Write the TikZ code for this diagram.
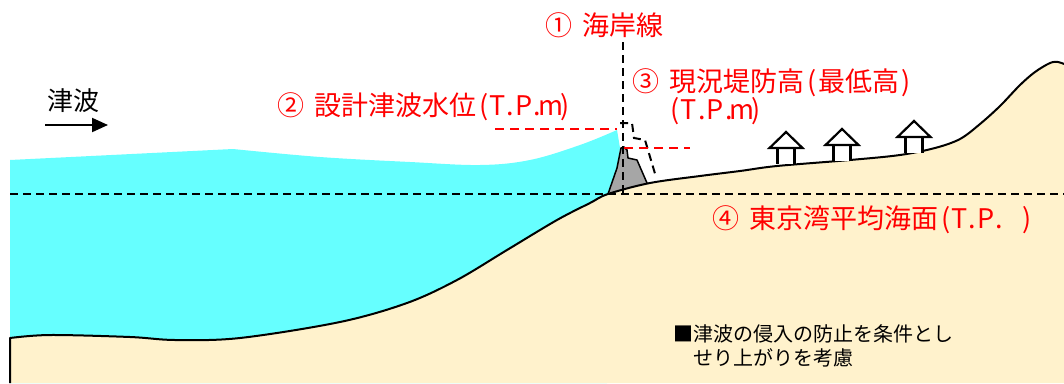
\documentclass[tikz,border=0pt]{standalone}
\usepackage{fontspec}
\newfontfamily\jp{Noto Sans CJK JP}
\usetikzlibrary{arrows.meta}
\definecolor{sea}{HTML}{66FFFF}
\definecolor{land}{HTML}{FFF2CC}
\definecolor{wall}{HTML}{A6A6A6}
\definecolor{lbl}{HTML}{FF0000}
% half-width cell, so that Latin letters line up like a fixed-pitch font
\newcommand\hw[1]{\makebox[0.5em]{#1}}

\begin{document}
\begin{tikzpicture}[x=1pt,y=-1pt,
  redlabel/.style={font=\jp\fontsize{27}{31}\selectfont, text=lbl, anchor=base west, inner sep=0pt},
  notetext/.style={font=\jp\fontsize{20}{24}\selectfont, anchor=base west, inner sep=0pt},
  blackdash/.style={line width=2pt, dash pattern=on 8pt off 5pt},
  reddash/.style={draw=lbl, line width=1.6pt, dash pattern=on 9pt off 6pt},
  groundline/.style={line width=2pt, line join=round},
  house/.style={line width=2.2pt, fill=white, line join=miter}
]
\useasboundingbox (0,0) rectangle (1064,383);
\fill[white] (0,0) rectangle (1064,383);

% sea
\fill[sea] (10,160) -- plot[smooth,tension=0.6] coordinates
  {(233,149)(320,157)(410,162)(480,165)(530,160)(580,145)(617,130)}
  -- (620,148) -- (617,168) -- (607,196) -- (607,383) -- (10,383) -- cycle;

% ground body
\fill[land] plot[smooth,tension=0.55] coordinates
  {(10,338)(50,335)(130,337)(175,340)(240,338)(340,322)(407,303)(457,280)(507,250)
   (557,220)(590,203)(608,194)(650,183)(700,176)(740,171)(777,166)(850,160)(900,155)
   (935,148)(960,139)(980,124)(1000,106)(1020,85)(1035,72)(1050,63)(1058,62)(1064,64)}
  -- (1064,383) -- (10,383) -- cycle;

% sea wall
\draw[fill=wall, line width=1.5pt, line join=round]
  (608,194) -- (617,168) -- (621,148) -- (624,147) -- (627,150) -- (628,158)
  -- (637,160) -- (647,183);

% ground surface and left cut edge
\draw[groundline] (10,383) -- plot[smooth,tension=0.55] coordinates
  {(10,338)(50,335)(130,337)(175,340)(240,338)(340,322)(407,303)(457,280)(507,250)
   (557,220)(590,203)(608,194)(650,183)(700,176)(740,171)(777,166)(850,160)(900,155)
   (935,148)(960,139)(980,124)(1000,106)(1020,85)(1035,72)(1050,63)(1058,62)(1064,64)};

% houses
\foreach \ax/\ay in {786/132, 842/129, 914/121} {
  \draw[house] (\ax-8.5,\ay+32) -- (\ax-8.5,\ay+16) -- (\ax+8.5,\ay+16) -- (\ax+8.5,\ay+32);
  \draw[house] (\ax-16.5,\ay+16) -- (\ax,\ay) -- (\ax+16.5,\ay+16) -- cycle;
}

% reference levels
\coordinate (tpW) at (10,194);
\coordinate (tpE) at (1064,194);
\draw[blackdash] (tpW) -- (tpE);

\coordinate (coastT) at (623,42);
\coordinate (coastB) at (623,194);
\draw[blackdash] (coastT) -- (coastB);

\coordinate (lvA) at (620,123);
\coordinate (lvB) at (632,123);
\coordinate (lvC) at (634,138);
\coordinate (lvD) at (645,140);
\coordinate (lvE) at (656,177);
\draw[blackdash, line join=miter] (lvA) -- (lvB) -- (lvC) -- (lvD) -- (lvE);

\coordinate (dwlW) at (495,129);
\coordinate (dwlE) at (617,129);
\draw[reddash] (dwlW) -- (dwlE);

\coordinate (crestW) at (624,148);
\coordinate (crestE) at (690,148);
\draw[reddash] (crestW) -- (crestE);

% tsunami direction
\node[font=\jp\fontsize{26}{30}\selectfont, anchor=base west, inner sep=0pt] (tsu) at (47,110) {津波};
\coordinate (arrS) at (45,125);
\coordinate (arrE) at (108,125);
\draw[line width=2pt, -{Triangle[length=16pt,width=14pt]}] (arrS) -- (arrE);

% labels
\node[redlabel] (l1) at (545,35) {①\hspace{0.4em}海岸線};
\node[redlabel] (l2) at (277,115) {②\hspace{0.4em}設計津波水位\hw{(}\hw{T}\hw{.}\hw{P}\hw{.}\hw{m}\hw{)}};
\node[redlabel] (l3) at (632,91) {③\hspace{0.4em}現況堤防高\hw{(}最低高\hw{)}};
\node[redlabel] (l3b) at (668,119) {\hw{(}\hw{T}\hw{.}\hw{P}\hw{.}\hw{m}\hw{)}};
\node[redlabel] (l4) at (712,228) {④\hspace{0.4em}東京湾平均海面\hw{(}\hw{T}\hw{.}\hw{P}\hw{.}\hw{~}\hw{)}};

\node[notetext] (noteA) at (673,341) {■津波の侵入の防止を条件とし};
\node[notetext] (noteB) at (693,365) {せり上がりを考慮};
\end{tikzpicture}
\end{document}
